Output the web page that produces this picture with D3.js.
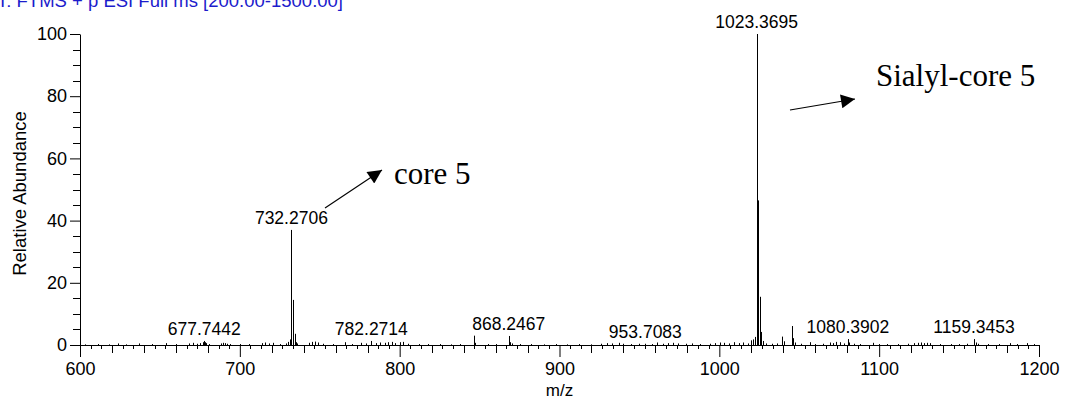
<!DOCTYPE html>
<html>
<head>
<meta charset="utf-8">
<script src="https://cdn.jsdelivr.net/npm/d3@7"></script>
<style>
  body { margin: 0; background: #fff; }
  svg { display: block; }
</style>
</head>
<body>
<svg id="chart" width="1070" height="400"></svg>
<script>
// ---- axis setup ----
const mzDomain = [600, 1200];
const abundanceDomain = [0, 100];
const xMajorTicks = [600, 700, 800, 900, 1000, 1100, 1200];
const yMajorTicks = [0, 20, 40, 60, 80, 100];

const scanHeader = "T: FTMS + p ESI Full ms [200.00-1500.00]";
const xTitle = "m/z";
const yTitle = "Relative Abundance";

// ---- annotated peaks (m/z printed above each stick) ----
const labelMz = [677.7442, 732.2706, 782.2714, 868.2467, 953.7083, 1023.3695, 1080.3902, 1159.3453];
const labelAbundance = [1.3, 37.0, 1.3, 2.9, 0.4, 100, 1.9, 1.9];

// ---- isotope, adduct and baseline peaks ----
const peakMz = [
  603, 611, 618, 624, 629, 637, 645, 654, 660, 668, 671, 673, 675, 677.2, 678.2, 679, 681,
  688, 689.5, 690.5, 692, 694, 700, 706, 714, 716, 718, 721, 725, 729, 730.3, 731.3,
  733.27, 734.27, 735.27, 736, 743, 745, 747, 749, 752, 758, 766, 770, 776, 779, 785, 788,
  791, 793, 795, 797, 800, 802, 805, 812, 818, 825, 832, 838, 846.2, 847.2, 855, 860,
  869.25, 870, 875, 882, 890, 898, 905, 912, 920, 926, 930, 933, 937, 940, 945, 950, 958,
  961, 965, 968, 971, 974, 979, 983, 988, 994, 997, 1000.5, 1003, 1006, 1009, 1012, 1015,
  1018, 1020, 1021.3, 1022.36, 1024.37, 1025.37, 1026.37, 1027.37, 1029, 1033, 1036,
  1039.4, 1040.4, 1045.35, 1046.35, 1047.35, 1051, 1056.8, 1060, 1065, 1069.3, 1071, 1073,
  1075.6, 1078, 1081.4, 1084, 1088, 1096.2, 1100, 1105, 1112, 1118, 1122, 1124, 1126, 1128,
  1130, 1132, 1138, 1145, 1150, 1155, 1160.35, 1162, 1168, 1175, 1182, 1186, 1192.6, 1197
];
const peakAbundance = [
  0.2, 0.3, 0.2, 0.5, 0.2, 0.5, 0.3, 0.6, 0.3, 0.5, 0.7, 0.4, 0.6, 0.9, 0.9, 0.6, 0.3,
  0.5, 0.7, 0.6, 0.4, 0.3, 0.3, 0.3, 0.6, 0.8, 0.5, 0.7, 0.3, 0.5, 1.0, 1.8,
  14.5, 3.6, 0.9, 0.5, 0.7, 1.0, 1.1, 0.8, 0.4, 0.3, 0.9, 0.3, 0.7, 0.5, 0.6, 0.8,
  0.7, 0.9, 1.0, 0.6, 0.9, 1.0, 0.4, 0.3, 0.3, 0.3, 0.2, 0.3, 3.0, 0.7, 0.3, 0.3,
  0.9, 0.5, 0.3, 0.3, 0.2, 0.3, 0.2, 0.3, 0.2, 0.4, 0.6, 0.5, 0.7, 0.4, 0.3, 0.4, 0.3,
  0.8, 0.4, 0.6, 0.7, 0.5, 0.4, 0.5, 0.3, 0.4, 0.6, 0.8, 0.7, 0.5, 0.9, 0.6, 0.8,
  0.5, 1.5, 1.8, 2.6, 46.5, 15.5, 4.2, 1.3, 0.5, 0.4, 0.5,
  2.7, 1.2, 6.1, 2.2, 0.8, 0.4, 0.9, 0.3, 0.4, 0.8, 0.6, 1.0,
  0.9, 0.5, 0.8, 0.4, 0.3, 0.7, 0.3, 0.3, 0.3, 0.4, 0.6, 0.7, 0.8, 0.6,
  0.7, 0.6, 0.3, 0.3, 0.3, 0.4, 0.8, 0.4, 0.3, 0.3, 0.6, 0.3, 0.6, 0.3
];

// ---- structure annotations ----
const annotationText = ["core 5", "Sialyl-core 5"];

// ---- drawing ----
const svg = d3.select("#chart");
const x = d3.scaleLinear().domain(mzDomain).range([80, 1039]);
const y = d3.scaleLinear().domain(abundanceDomain).range([345, 34]);

const sansFont = "'Liberation Sans', Arial, sans-serif";
const serifFont = "'Liberation Serif', 'Times New Roman', serif";

// scan header, partly clipped at the top edge
svg.append("text")
  .attr("x", -3).attr("y", 7)
  .attr("font-family", sansFont).attr("font-size", 18.5)
  .attr("fill", "#1c1ccc")
  .text(scanHeader);

// sticks
const sticks = svg.append("g").attr("stroke", "#000").attr("stroke-width", 1);
const allPeaks = peakMz.map((m, i) => ({ mz: m, ab: peakAbundance[i] }))
  .concat(labelMz.map((m, i) => ({ mz: m, ab: labelAbundance[i] })))
  .sort((a, b) => a.ab - b.ab);
sticks.selectAll("line").data(allPeaks).join("line")
  .attr("x1", d => Math.round(x(d.mz)) + 0.5)
  .attr("x2", d => Math.round(x(d.mz)) + 0.5)
  .attr("y1", y(0))
  .attr("y2", d => y(d.ab));

// peak labels
svg.append("g")
  .attr("font-family", sansFont).attr("font-size", 17.5).attr("text-anchor", "middle")
  .selectAll("text").data(labelMz).join("text")
  .attr("x", d => x(d))
  .attr("y", (d, i) => y(labelAbundance[i]) - 6)
  .text(d => d3.format(".4f")(d));

// x axis: major every 100, medium every 20, minor every 20/3
const xAxisG = svg.append("g").attr("transform", `translate(0,${y(0)})`);
xAxisG.call(d3.axisBottom(x).tickValues(xMajorTicks).tickFormat(d3.format("d"))
  .tickSizeInner(12).tickSizeOuter(0).tickPadding(5));
xAxisG.select(".domain").attr("stroke", "#000");
xAxisG.selectAll("text").attr("font-family", sansFont).attr("font-size", 18).attr("fill", "#000");
const xMedium = d3.range(600, 1200.01, 20).filter(v => !xMajorTicks.includes(v));
const xMinor = d3.range(0, 90).map(i => 600 + i * 20 / 3).filter(v => Math.abs(v / 20 - Math.round(v / 20)) > 1e-6);
xAxisG.selectAll(".mid").data(xMedium).join("line").attr("class", "mid")
  .attr("x1", d => Math.round(x(d)) + 0.5).attr("x2", d => Math.round(x(d)) + 0.5)
  .attr("y1", 0).attr("y2", 8).attr("stroke", "#000");
xAxisG.selectAll(".minor").data(xMinor).join("line").attr("class", "minor")
  .attr("x1", d => Math.round(x(d)) + 0.5).attr("x2", d => Math.round(x(d)) + 0.5)
  .attr("y1", 0).attr("y2", 4).attr("stroke", "#000");

// y axis: major every 20, minor every 5
const yAxisG = svg.append("g").attr("transform", `translate(${x(600)},0)`);
yAxisG.call(d3.axisLeft(y).tickValues(yMajorTicks).tickFormat(d3.format("d"))
  .tickSizeInner(10).tickSizeOuter(0).tickPadding(3));
yAxisG.select(".domain").attr("stroke", "#000");
yAxisG.selectAll("text").attr("font-family", sansFont).attr("font-size", 18).attr("fill", "#000");
const yMinor = d3.range(0, 100, 5).filter(v => v % 20 !== 0);
yAxisG.selectAll(".minor").data(yMinor).join("line").attr("class", "minor")
  .attr("y1", d => Math.round(y(d)) + 0.5).attr("y2", d => Math.round(y(d)) + 0.5)
  .attr("x1", 0).attr("x2", -7).attr("stroke", "#000");

// axis titles
svg.append("text")
  .attr("x", (x(600) + x(1200)) / 2).attr("y", 396)
  .attr("text-anchor", "middle")
  .attr("font-family", sansFont).attr("font-size", 17)
  .text(xTitle);
svg.append("text")
  .attr("transform", `translate(26,${(y(0) + y(100)) / 2 + 4}) rotate(-90)`)
  .attr("text-anchor", "middle")
  .attr("font-family", sansFont).attr("font-size", 18.5)
  .text(yTitle);

// arrows pointing from the peaks to their structure names
const defs = svg.append("defs");
defs.append("marker")
  .attr("id", "arrowhead").attr("viewBox", "0 0 10 10")
  .attr("refX", 10).attr("refY", 5)
  .attr("markerWidth", 17).attr("markerHeight", 14)
  .attr("markerUnits", "userSpaceOnUse")
  .attr("orient", "auto")
  .append("path").attr("d", "M0,0 L10,5 L0,10 Z").attr("fill", "#000");

const arrows = [
  { x1: 325, y1: 208, x2: 382, y2: 170 },
  { x1: 790, y1: 110, x2: 855, y2: 99 }
];
svg.append("g").selectAll("line").data(arrows).join("line")
  .attr("x1", d => d.x1).attr("y1", d => d.y1)
  .attr("x2", d => d.x2).attr("y2", d => d.y2)
  .attr("stroke", "#000").attr("stroke-width", 1.2)
  .attr("marker-end", "url(#arrowhead)");

svg.append("text")
  .attr("x", 394).attr("y", 184)
  .attr("font-family", serifFont).attr("font-size", 31)
  .text(annotationText[0]);
svg.append("text")
  .attr("x", 876).attr("y", 86)
  .attr("font-family", serifFont).attr("font-size", 31)
  .text(annotationText[1]);
</script>
</body>
</html>
